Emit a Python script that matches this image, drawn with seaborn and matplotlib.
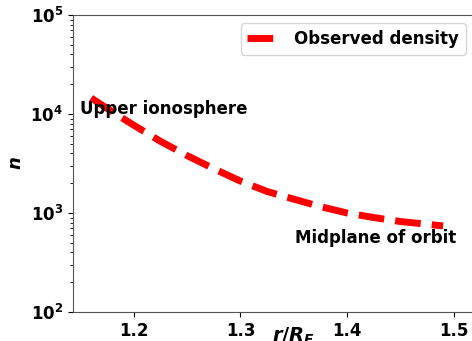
import matplotlib
matplotlib.use("Agg")
import matplotlib.pyplot as plt
import seaborn as sns
import pandas as pd

# Data
r_values = [1.16, 1.18, 1.20, 1.225, 1.25, 1.275, 1.30, 1.325, 1.35, 1.375, 1.40, 1.425, 1.45, 1.47, 1.49]
density = [14500, 10500, 7700, 5300, 3800, 2800, 2100, 1650, 1380, 1160, 1000, 900, 820, 780, 740]
series_label = "Observed density"
x_ticks = [1.2, 1.3, 1.4, 1.5]
annot_upper = "Upper ionosphere"
annot_mid = "Midplane of orbit"

plt.rcParams['mathtext.fontset'] = 'custom'
plt.rcParams['mathtext.it'] = 'DejaVu Sans:bold:italic'
plt.rcParams['mathtext.rm'] = 'DejaVu Sans:bold'
plt.rcParams['mathtext.bf'] = 'DejaVu Sans:bold'

df = pd.DataFrame({"r": r_values, "n": density, "label": series_label})

fig = plt.figure(figsize=(4.72, 3.41), dpi=100)
ax = fig.add_axes([73/472, 1 - 312/341, 401/472, 297/341])

sns.lineplot(data=df, x="r", y="n", ax=ax, color="red", linewidth=5,
             linestyle="--", label=series_label)

ax.set_yscale("log")
ax.set_ylim(1e2, 1e5)
ax.set_xlim(1.143, 1.519)
ax.set_xticks(x_ticks)
ax.set_xticklabels([f"{t:.1f}" for t in x_ticks])

for lab in ax.get_xticklabels() + ax.get_yticklabels():
    lab.set_fontweight("bold")
    lab.set_fontsize(12)

ax.set_xlabel("$r/R_E$", fontsize=14, fontweight="bold")
ax.xaxis.set_label_coords(0.55, -0.045, transform=ax.transAxes)
ax.xaxis.label.set_va("top")
ax.set_ylabel("$n$", fontsize=13, fontweight="bold")

ax.text(1.1495, 1.0e4, annot_upper, fontsize=12, fontweight="bold", va="baseline", ha="left")
ax.text(1.351, 5.0e2, annot_mid, fontsize=12, fontweight="bold", va="baseline", ha="left")

for s in ax.spines.values():
    s.set_color("#555555")

leg = ax.legend(loc="upper right", prop={"weight": "bold", "size": 12})

fig.savefig("out.png", dpi=100)
